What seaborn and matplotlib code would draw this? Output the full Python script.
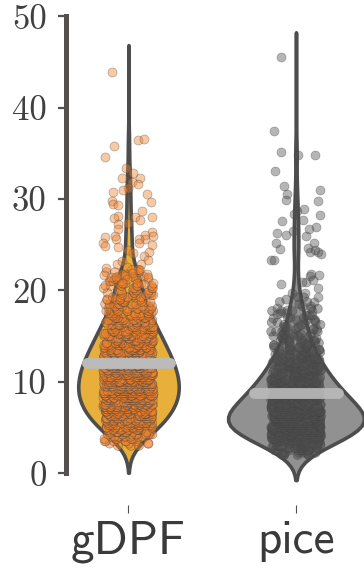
import numpy as np
import pandas as pd
import matplotlib
matplotlib.use('Agg')
import matplotlib.pyplot as plt
import seaborn as sns

groups = ['gDPF', 'pice']
y_ticks = [0, 10, 20, 30, 40, 50]
mean_values = [12.1, 8.8]

# dense body: counts per quarter-unit bin
gdpf_bins = [3, 3.25, 3.5, 3.75, 4, 4.25, 4.5, 4.75, 5, 5.25, 5.5, 5.75, 6, 6.25, 6.5, 6.75,
             7, 7.25, 7.5, 7.75, 8, 8.25, 8.5, 8.75, 9, 9.25, 9.5, 9.75, 10, 10.25, 10.5, 10.75,
             11, 11.25, 11.5, 11.75, 12, 12.25, 12.5, 12.75, 13, 13.25, 13.5, 13.75, 14, 14.25, 14.5, 14.75,
             15, 15.25, 15.5, 15.75, 16, 16.25, 16.5, 16.75, 17, 17.25, 17.5, 17.75, 18, 18.25, 18.5, 18.75,
             19, 19.25, 19.5, 19.75, 20, 20.25, 20.5, 20.75, 21, 21.25, 21.5, 21.75, 22, 22.25]
gdpf_counts = [3, 4, 6, 6, 9, 10, 12, 13, 14, 15, 16, 16, 18, 18, 19, 19,
               20, 21, 21, 22, 22, 23, 22, 23, 22, 23, 22, 23, 22, 23, 21, 22,
               21, 22, 20, 21, 20, 20, 19, 19, 18, 18, 17, 17, 16, 16, 15, 15,
               14, 14, 13, 13, 12, 12, 11, 11, 10, 10, 9, 9, 8, 8, 7, 7,
               7, 6, 6, 6, 6, 5, 5, 4, 4, 4, 4, 3, 3, 3]
pice_bins = [2, 2.25, 2.5, 2.75, 3, 3.25, 3.5, 3.75, 4, 4.25, 4.5, 4.75, 5, 5.25, 5.5, 5.75,
             6, 6.25, 6.5, 6.75, 7, 7.25, 7.5, 7.75, 8, 8.25, 8.5, 8.75, 9, 9.25, 9.5, 9.75,
             10, 10.25, 10.5, 10.75, 11, 11.25, 11.5, 11.75, 12, 12.25, 12.5, 12.75, 13, 13.25, 13.5, 13.75,
             14, 14.25, 14.5, 14.75, 15, 15.25, 15.5, 15.75, 16, 16.25, 16.5, 16.75, 17, 17.25, 17.5, 17.75,
             18, 18.25, 18.5, 18.75, 19, 19.25]
pice_counts = [6, 6, 10, 10, 13, 14, 18, 18, 23, 24, 28, 28, 30, 30, 31, 31,
               30, 30, 28, 28, 25, 25, 23, 23, 21, 21, 20, 20, 18, 18, 16, 16,
               15, 15, 13, 14, 12, 12, 11, 11, 10, 10, 9, 9, 8, 8, 7, 7,
               6, 6, 5, 6, 5, 5, 4, 5, 4, 4, 3, 4, 3, 3, 2, 3,
               2, 2, 1, 2, 1, 2]

# sparse upper points, read one by one: value and sideways offset
gdpf_top = [43.9, 36.5, 36.6, 35.8, 34.6, 33.4, 32.8, 32.3, 32.3, 31.9, 31.6, 31.2, 31.0, 30.8, 30.6,
            29.8, 29.7, 29.5, 29.4, 28.7, 28.2, 27.9, 28.0, 28.0, 27.7, 27.4, 27.3, 26.7, 26.4, 26.1,
            26.0, 26.0, 25.6, 25.6, 25.9, 25.6, 25.2, 25.2, 24.9, 25.0, 24.8, 24.4, 24.1, 24.2, 23.8,
            23.3, 22.9, 23.2, 22.9, 22.5, 22.6, 22.2, 21.7, 21.8, 21.5, 21.5, 21.6, 21.9, 21.5, 21.3,
            20.8, 20.6, 20.7, 20.8, 20.8]
gdpf_top_off = [-.10, .055, .09, -.087, -.14, -.015, .027, .07, -.04, .02, .055, -.005, -.03, -.095, .11,
                -.097, .136, -.09, -.06, .08, -.063, -.087, .142, .04, .07, 0, -.063, -.063, .138, .1,
                .144, -.08, .1, -.075, -.142, .065, .065, -.15, -.138, .138, -.063, 0, .025, .12, .095,
                .118, -.07, -.04, .073, -.134, -.01, .07, -.146, .108, -.104, -.076, -.02, .023, .118, -.01,
                .148, -.14, .094, -.04, .05]
pice_top = [45.5, 37.4, 35.1, 34.8, 34.8, 33.1, 31.4, 31.0, 30.6, 29.9, 29.8, 28.9, 28.7, 28.4, 28.3,
            27.7, 27.6, 26.9, 26.7, 26.5, 26.3, 26.1, 26.0, 25.2, 25.2, 24.5, 24.7, 24.2, 24.4, 24.2,
            24.0, 23.3, 23.3, 21.8, 21.7, 21.6, 21.1, 20.9, 20.9, 20.7, 20.3, 19.7, 19.7, 19.3, 18.7,
            18.1, 17.8, 17.9, 17.0, 17.4]
pice_top_off = [-.088, -.133, -.09, .014, .111, -.127, -.074, .145, -.056, -.06, .131, .048, .004, -.012, .145,
                .04, -.086, .119, .078, -.018, -.111, -.062, .062, -.119, .109, -.094, .074, .086, .115, .133,
                .151, -.149, -.133, .09, .139, .084, .1, .06, .034, -.088, .131, -.026, .054, .133, .105,
                -.115, .093, -.056, -.139, -.111]

fill_colors = ['#E8B03B', '#919191']
dot_colors = ['#F0802A', '#505050']
violin_widths = [0.6, 0.81]
bw_scale = [1.05, 1.0]

sns.set_theme(style='ticks')
np.random.seed(3)  # keeps the strip jitter the same between runs

gdpf_dense = np.repeat(gdpf_bins, gdpf_counts)
pice_dense = np.repeat(pice_bins, pice_counts)
dense = pd.DataFrame({
    'group': ['gDPF'] * len(gdpf_dense) + ['pice'] * len(pice_dense),
    'value': np.concatenate([gdpf_dense, pice_dense]),
})
top = pd.DataFrame({
    'group': ['gDPF'] * len(gdpf_top) + ['pice'] * len(pice_top),
    'value': gdpf_top + pice_top,
    'pos': [o for o in gdpf_top_off] + [1 + o for o in pice_top_off],
})
full = pd.concat([dense, top[['group', 'value']]], ignore_index=True)

fig = plt.figure(figsize=(3.64, 5.68), dpi=100)
ax = fig.add_axes([66 / 364, 63 / 568, 298 / 364, 489 / 568])

for i, g in enumerate(groups):
    sns.violinplot(data=full[full['group'] == g], x='group', y='value', order=groups, color=fill_colors[i],
                   inner=None, linewidth=2.6, linecolor='#4d4d4d', saturation=1, density_norm='width',
                   width=violin_widths[i], bw_adjust=bw_scale[i], ax=ax)
sns.stripplot(data=dense, x='group', y='value', hue='group', order=groups, palette=dot_colors,
              jitter=0.15, size=6.5, alpha=0.48, linewidth=0.5, edgecolor='#444444',
              legend=False, ax=ax, zorder=4)
for i, g in enumerate(groups):
    part = top[top['group'] == g]
    sns.scatterplot(x=part['pos'].to_numpy(), y=part['value'].to_numpy(), color=dot_colors[i], s=42,
                    alpha=0.42, linewidth=0.5, edgecolor='#444444', legend=False, ax=ax, zorder=4)

for i, m in enumerate(mean_values):
    ax.hlines(m, i - 0.25, i + 0.25, color='#bbbbbb', linewidth=7.8, capstyle='round', zorder=5,
              alpha=1 if i == 0 else 0.9)

ax.set_xlim(-0.373, 1.406)
ax.set_ylim(-3.47, 50.03)
ax.set_xlabel('')
ax.set_ylabel('')
sns.despine(ax=ax, bottom=True)
ax.spines['left'].set_bounds(0, 50)
ax.spines['left'].set_linewidth(3.6)
ax.spines['left'].set_color('#555050')

ax.set_yticks(y_ticks)
ax.set_yticklabels([str(t) for t in y_ticks], fontfamily='cmr10', fontsize=25, color='#404040')
ax.set_xticks([0, 1])
ax.set_xticklabels(groups, fontfamily='cmss10', fontsize=34, color='#3a3a3a')
ax.tick_params(axis='y', length=6, width=1.6, color='#555050', pad=8)
ax.tick_params(axis='x', length=6, width=0.8, color='#555050', pad=5)

fig.savefig('out.png', dpi=100)
